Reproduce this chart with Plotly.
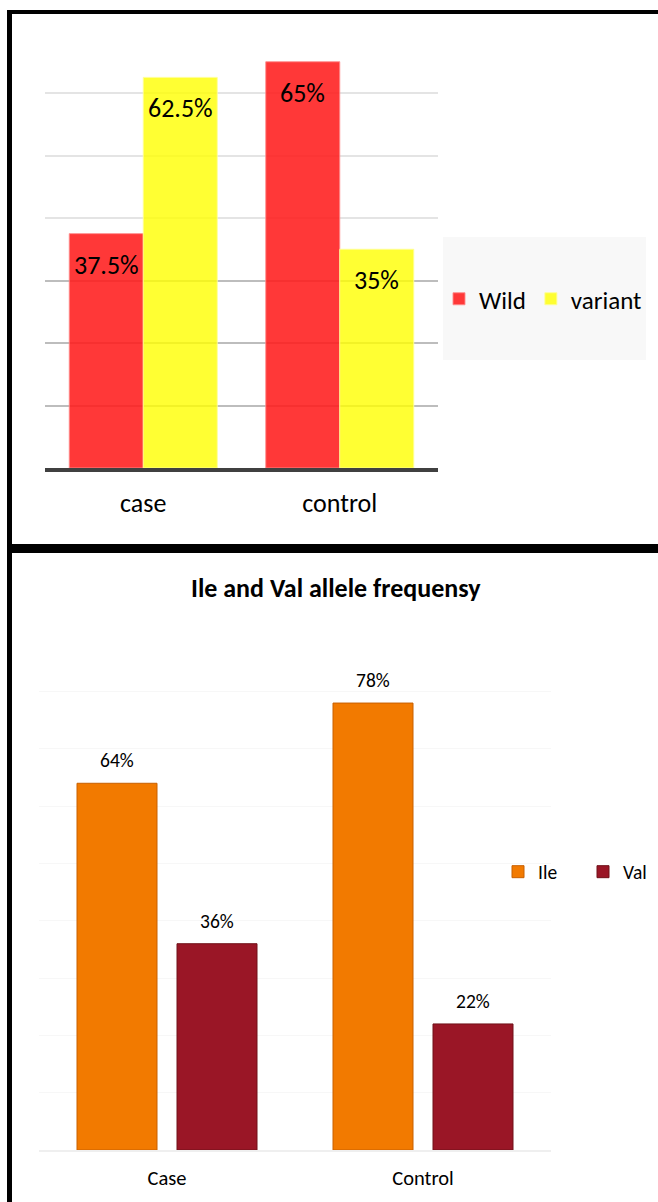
import plotly.graph_objects as go

# ---------------- data ----------------
top_categories = ["case", "control"]
wild_values = [37.5, 65]
variant_values = [62.5, 35]
wild_labels = ["37.5%", "65%"]
variant_labels = ["62.5%", "35%"]

bottom_title = "Ile and Val allele frequensy"
bottom_categories = ["Case", "Control"]
ile_values = [64, 78]
val_values = [36, 22]
ile_labels = ["64%", "78%"]
val_labels = ["36%", "22%"]

# ---------------- layout geometry (pixels) ----------------
W, H = 658, 1202
FONT = "Carlito, Calibri, Lato, sans-serif"

def px_x(p):
    return p / W

def px_y(p):
    return 1 - p / H

# top plot area
t_x0, t_x1, t_ytop, t_ybot = 45, 438, 30.5, 468
# bottom plot area
b_x0, b_x1, b_ytop, b_ybot = 39, 551, 634.3, 1150

t_cat_px = (t_x1 - t_x0) / len(top_categories)
b_cat_px = (b_x1 - b_x0) / len(bottom_categories)

t_width = 74 / t_cat_px
b_width = 80 / b_cat_px
b_off_center = 50 / b_cat_px

fig = go.Figure()

# top chart bars
fig.add_trace(go.Bar(
    x=top_categories, y=wild_values, name="Wild",
    width=t_width, offset=-t_width,
    marker=dict(color="rgba(255,28,28,0.88)", line=dict(color="rgba(255,140,140,0.9)", width=1)),
    xaxis="x", yaxis="y", legend="legend",
))
fig.add_trace(go.Bar(
    x=top_categories, y=variant_values, name="variant",
    width=t_width, offset=0,
    marker=dict(color="rgba(255,255,0,0.8)", line=dict(color="rgba(255,255,150,0.9)", width=1)),
    xaxis="x", yaxis="y", legend="legend",
))

# bottom chart bars
fig.add_trace(go.Bar(
    x=bottom_categories, y=ile_values, name="Ile",
    width=b_width, offset=-b_off_center - b_width / 2,
    marker=dict(color="#F27A00", line=dict(color="#C86000", width=1)),
    xaxis="x2", yaxis="y2", legend="legend2",
))
fig.add_trace(go.Bar(
    x=bottom_categories, y=val_values, name="Val",
    width=b_width, offset=b_off_center - b_width / 2,
    marker=dict(color="#9A1626", line=dict(color="#701018", width=1)),
    xaxis="x2", yaxis="y2", legend="legend2",
))

annotations = []
# top labels inside bars
for cat, v, lab in zip(top_categories, wild_values, wild_labels):
    annotations.append(dict(x=cat, y=v, xref="x", yref="y", text=lab, showarrow=False,
                            xshift=-t_width / 2 * t_cat_px, yshift=-31, yanchor="middle",
                            font=dict(family=FONT, size=26, color="#000000")))
for cat, v, lab in zip(top_categories, variant_values, variant_labels):
    annotations.append(dict(x=cat, y=v, xref="x", yref="y", text=lab, showarrow=False,
                            xshift=t_width / 2 * t_cat_px, yshift=-31, yanchor="middle",
                            font=dict(family=FONT, size=26, color="#000000")))
# bottom labels above bars
for cat, v, lab in zip(bottom_categories, ile_values, ile_labels):
    annotations.append(dict(x=cat, y=v, xref="x2", yref="y2", text=lab, showarrow=False,
                            xshift=-b_off_center * b_cat_px, yshift=23, yanchor="middle",
                            font=dict(family=FONT, size=19.5, color="#000000")))
for cat, v, lab in zip(bottom_categories, val_values, val_labels):
    annotations.append(dict(x=cat, y=v, xref="x2", yref="y2", text=lab, showarrow=False,
                            xshift=b_off_center * b_cat_px, yshift=23, yanchor="middle",
                            font=dict(family=FONT, size=19.5, color="#000000")))
# bottom title
annotations.append(dict(x=px_x(336), y=px_y(588), xref="paper", yref="paper",
                        text="<b>" + bottom_title + "</b>", showarrow=False,
                        xanchor="center", yanchor="middle",
                        font=dict(family=FONT, size=26, color="#000000")))

shapes = [
    # legend box of top chart
    dict(type="rect", xref="paper", yref="paper", x0=px_x(443), x1=px_x(646),
         y0=px_y(360), y1=px_y(237), fillcolor="#F8F8F8", line=dict(width=0), layer="below"),
    # panel borders
    dict(type="rect", xref="paper", yref="paper", x0=px_x(7), x1=px_x(658),
         y0=px_y(14), y1=px_y(10), fillcolor="#000000", line=dict(width=0)),
    dict(type="rect", xref="paper", yref="paper", x0=px_x(7), x1=px_x(12),
         y0=px_y(1202), y1=px_y(10), fillcolor="#000000", line=dict(width=0)),
    dict(type="rect", xref="paper", yref="paper", x0=px_x(7), x1=px_x(658),
         y0=px_y(553), y1=px_y(544), fillcolor="#000000", line=dict(width=0)),
]

fig.update_layout(
    width=W, height=H,
    margin=dict(l=0, r=0, t=0, b=0, pad=0, autoexpand=False),
    paper_bgcolor="#FFFFFF", plot_bgcolor="rgba(0,0,0,0)",
    barmode="group",
    font=dict(family=FONT, color="#000000"),
    annotations=annotations,
    shapes=shapes,
    xaxis=dict(domain=[px_x(t_x0), px_x(t_x1)], anchor="y", showgrid=False,
               showline=True, linecolor="#404040", linewidth=4,
               ticks="", tickfont=dict(family=FONT, size=26, color="#000000"),
               ticklabelstandoff=9, fixedrange=True),
    yaxis=dict(domain=[px_y(t_ybot), px_y(t_ytop)], anchor="x", range=[0, 70],
               tickvals=[10, 20, 30], showticklabels=False, showgrid=True,
               gridcolor="#BDBDBD", gridwidth=2, zeroline=False, showline=False),
    yaxis3=dict(overlaying="y", range=[0, 70], tickvals=[40, 50, 60, 70],
                showticklabels=False, showgrid=True, gridcolor="#E4E4E4", gridwidth=2,
                zeroline=False, showline=False),
    xaxis2=dict(domain=[px_x(b_x0), px_x(b_x1)], anchor="y2", showgrid=False,
                showline=True, linecolor="#EFEFEF", linewidth=2,
                ticks="", tickfont=dict(family=FONT, size=20.5, color="#000000"),
                ticklabelstandoff=8),
    yaxis2=dict(domain=[px_y(b_ybot), px_y(b_ytop)], anchor="x2", range=[0, 90],
                dtick=10, showticklabels=False, showgrid=True, gridcolor="#F7F7F7",
                gridwidth=1, zeroline=False, showline=False),
    legend=dict(orientation="h", x=px_x(647), y=px_y(299), xanchor="right", yanchor="middle",
                bgcolor="rgba(0,0,0,0)", font=dict(family=FONT, size=25, color="#000000"),
                itemclick=False, itemdoubleclick=False),
    legend2=dict(orientation="h", x=px_x(498), y=px_y(872), xanchor="left", yanchor="middle",
                 bgcolor="rgba(0,0,0,0)", font=dict(family=FONT, size=19.5, color="#000000"),
                 entrywidth=40, entrywidthmode="pixels",
                 itemclick=False, itemdoubleclick=False),
)

# invisible trace to anchor yaxis3 so its gridlines render
fig.add_trace(go.Scatter(x=[None], y=[None], xaxis="x", yaxis="y3", showlegend=False,
                         hoverinfo="skip"))

fig.write_html("out.html", config={"displayModeBar": False},
               post_script="document.body.style.margin='0';")
